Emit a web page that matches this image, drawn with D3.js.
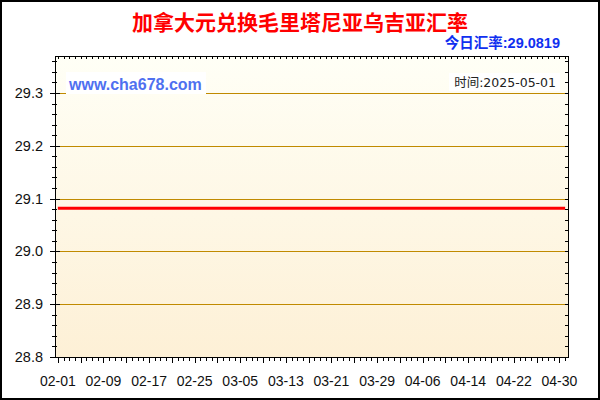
<!DOCTYPE html>
<html>
<head>
<meta charset="utf-8">
<script src="https://cdn.jsdelivr.net/npm/d3@7"></script>
<style>
html,body{margin:0;padding:0;background:#fff;}
svg{display:block;}
</style>
</head>
<body>
<script>
// ---- data ----
const title = "加拿大元兑换毛里塔尼亚乌吉亚汇率";
const todayLabel = "今日汇率:29.0819";
const watermark = "www.cha678.com";
const timeLabel = "时间:2025-05-01";
const dates = ["2025-02-01","2025-02-08","2025-02-15","2025-02-22","2025-03-01","2025-03-08","2025-03-15","2025-03-22","2025-03-29","2025-04-05","2025-04-12","2025-04-19","2025-04-26","2025-05-01"];
const rates = [29.0819,29.0819,29.0819,29.0819,29.0819,29.0819,29.0819,29.0819,29.0819,29.0819,29.0819,29.0819,29.0819,29.0819];
const yTicks = [28.8, 28.9, 29.0, 29.1, 29.2, 29.3];
const xTickLabels = ["02-01","02-09","02-17","02-25","03-05","03-13","03-21","03-29","04-06","04-14","04-22","04-30"];
const yDomain = [28.8, 29.37];

// ---- layout ----
const W = 600, H = 400;
const L = 55, R = 568, T = 56, B = 357;
const parse = d3.timeParse("%Y-%m-%d");
const fmt = d3.timeFormat("%m-%d");

const svg = d3.select("body").append("svg").attr("width", W).attr("height", H);

// outer frame
svg.append("rect").attr("x",1).attr("y",1).attr("width",W-2).attr("height",H-2)
  .attr("fill","#fff").attr("stroke","#000").attr("stroke-width",2);

const x = d3.scaleTime()
  .domain([new Date(2025,0,31,12), new Date(2025,4,1,12)])
  .range([L, R]);
const y = d3.scaleLinear().domain(yDomain).range([B, T]);

// background gradient
const defs = svg.append("defs");
const grad = defs.append("linearGradient").attr("id","bg").attr("x1",0).attr("y1",0).attr("x2",0).attr("y2",1);
grad.append("stop").attr("offset","0%").attr("stop-color","#fffff6");
grad.append("stop").attr("offset","100%").attr("stop-color","#fdf0d6");
svg.append("rect").attr("x",L).attr("y",T).attr("width",R-L).attr("height",B-T).attr("fill","url(#bg)");

// gridlines
svg.append("g").selectAll("line").data(yTicks).join("line")
  .attr("x1", L+5).attr("x2", R-3)
  .attr("y1", d => Math.round(y(d))+0.5).attr("y2", d => Math.round(y(d))+0.5)
  .attr("stroke","#c08a00").attr("stroke-width",1);

// watermark boxes
svg.append("rect").attr("x",66).attr("y",72).attr("width",140).attr("height",22).attr("fill","#fff");
svg.append("text").attr("x",69).attr("y",90).text(watermark)
  .attr("font-family","Liberation Sans, Arial, sans-serif").attr("font-weight","bold")
  .attr("font-size",16).attr("fill","#4f70f0");
svg.append("rect").attr("x",449).attr("y",73).attr("width",111).attr("height",18).attr("fill","#fff");
svg.append("text").attr("x",556).attr("y",87).attr("text-anchor","end").text(timeLabel)
  .attr("font-family","DejaVu Sans, Noto Sans CJK SC, sans-serif").attr("font-size",12.5).attr("fill","#222");

// line
const line = d3.line().x(d => x(d.date)).y(d => y(d.v));
const series = dates.map((d,i) => ({date: parse(d), v: rates[i]}));
svg.append("path").datum(series).attr("d", line)
  .attr("fill","none").attr("stroke","#ff0000").attr("stroke-width",3);

// axes: minor/major ticks
const days = d3.timeDay.range(new Date(2025,1,1), new Date(2025,4,2));
const startDay = new Date(2025,1,1);
const dayIdx = d => Math.round((d - startDay)/86400000);
const axG = svg.append("g").attr("stroke","#000").attr("stroke-width",1);
// bottom ticks
axG.selectAll("line.bt").data(days).join("line")
  .attr("x1", d => Math.round(x(d))+0.5).attr("x2", d => Math.round(x(d))+0.5)
  .attr("y1", B).attr("y2", d => dayIdx(d)%4===0 ? B+6 : B+4);
// top ticks
axG.selectAll("line.tt").data(days).join("line")
  .attr("x1", d => Math.round(x(d))+0.5).attr("x2", d => Math.round(x(d))+0.5)
  .attr("y1", T).attr("y2", T+3);
// y minor ticks
const yMinor = d3.range(0, 29).map(i => 28.8 + i*0.02).filter(v => v <= yDomain[1]);
axG.selectAll("line.yl").data(yMinor).join("line")
  .attr("y1", d => Math.round(y(d))+0.5).attr("y2", d => Math.round(y(d))+0.5)
  .attr("x1", L-3).attr("x2", L+2);
axG.selectAll("line.yr").data(yMinor).join("line")
  .attr("y1", d => Math.round(y(d))+0.5).attr("y2", d => Math.round(y(d))+0.5)
  .attr("x1", R-3).attr("x2", R);
axG.selectAll("line.ym").data(yTicks).join("line")
  .attr("y1", d => Math.round(y(d))+0.5).attr("y2", d => Math.round(y(d))+0.5)
  .attr("x1", L-5).attr("x2", L+5);
// frame lines
axG.append("line").attr("x1",L+0.5).attr("x2",L+0.5).attr("y1",T).attr("y2",B+1);
axG.append("line").attr("x1",R+0.5).attr("x2",R+0.5).attr("y1",T).attr("y2",B+1);
axG.append("line").attr("x1",L).attr("x2",R+1).attr("y1",T+0.5).attr("y2",T+0.5);
axG.append("line").attr("x1",L).attr("x2",R+1).attr("y1",B+0.5).attr("y2",B+0.5);

// y labels
svg.append("g").selectAll("text").data(yTicks).join("text")
  .attr("x", 43).attr("y", d => y(d)+5).attr("text-anchor","end")
  .text(d => d.toFixed(1))
  .attr("font-family","Liberation Sans, Arial, sans-serif").attr("font-size",14.5).attr("fill","#111");

// x labels
const xLabelDates = xTickLabels.map(s => parse("2025-" + s));
svg.append("g").selectAll("text").data(xLabelDates).join("text")
  .attr("x", d => x(d)).attr("y", 386).attr("text-anchor","middle")
  .text(d => fmt(d))
  .attr("font-family","Liberation Sans, Arial, sans-serif").attr("font-size",14).attr("fill","#111");

// title
svg.append("text").attr("x",300).attr("y",30).attr("text-anchor","middle").text(title)
  .attr("font-family","Noto Sans CJK SC, sans-serif").attr("font-weight","bold")
  .attr("font-size",21).attr("fill","#ff0000");
svg.append("text").attr("x",560).attr("y",48).attr("text-anchor","end").text(todayLabel)
  .attr("font-family","Liberation Sans, Noto Sans CJK SC, sans-serif").attr("font-weight","bold")
  .attr("font-size",14.5).attr("fill","#1030f0");
</script>
</body>
</html>
